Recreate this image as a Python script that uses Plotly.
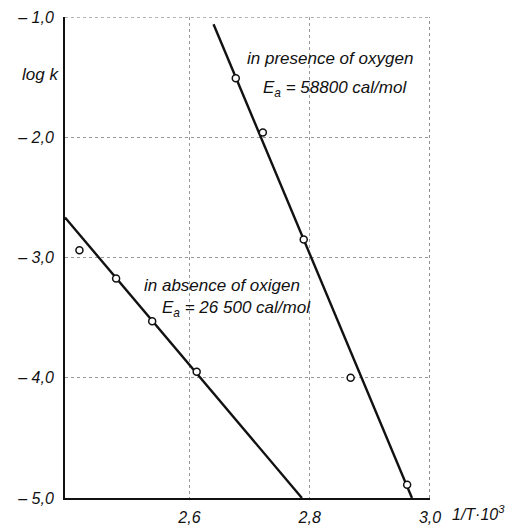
import plotly.graph_objects as go

# Measured rate constants (log k against 1/T * 10^3)
x_oxygen = [2.677, 2.722, 2.790, 2.868, 2.962]
y_oxygen = [-1.51, -1.96, -2.85, -4.00, -4.89]

x_no_oxygen = [2.417, 2.478, 2.538, 2.612]
y_no_oxygen = [-2.94, -3.175, -3.53, -3.95]

# Arrhenius fit lines (end points)
fit_oxygen_x = [2.640, 2.970]
fit_oxygen_y = [-1.06, -5.00]
fit_no_oxygen_x = [2.393, 2.787]
fit_no_oxygen_y = [-2.667, -5.00]

x_ticks = [2.6, 2.8, 3.0]
x_tick_text = ["2,6", "2,8", "3,0"]
y_ticks = [-1, -2, -3, -4, -5]
y_tick_text = ["\u2013 1,0", "\u2013 2,0", "\u2013 3,0", "\u2013 4,0", "\u2013 5,0"]

X_RANGE = [2.393, 3.0]
Y_RANGE = [-5.0, -1.0]

FONT = "Liberation Sans"
INK = "#111111"

fig = go.Figure()

fig.add_trace(go.Scatter(x=fit_oxygen_x, y=fit_oxygen_y, mode="lines",
                         line=dict(color=INK, width=2.4), hoverinfo="skip"))
fig.add_trace(go.Scatter(x=fit_no_oxygen_x, y=fit_no_oxygen_y, mode="lines",
                         line=dict(color=INK, width=2.4), hoverinfo="skip"))

marker = dict(symbol="circle", size=7, color="white", line=dict(color=INK, width=1.5))
fig.add_trace(go.Scatter(x=x_oxygen, y=y_oxygen, mode="markers", marker=marker))
fig.add_trace(go.Scatter(x=x_no_oxygen, y=y_no_oxygen, mode="markers", marker=marker))

# thin dotted frame on top and right
fig.add_shape(type="line", xref="x", yref="y", x0=X_RANGE[0], x1=X_RANGE[1], y0=Y_RANGE[1], y1=Y_RANGE[1],
              line=dict(color="#666666", width=1, dash="dot"))
fig.add_shape(type="line", xref="x", yref="y", x0=X_RANGE[1], x1=X_RANGE[1], y0=Y_RANGE[0], y1=Y_RANGE[1],
              line=dict(color="#555555", width=1.3, dash="dot"))

txt = dict(family=FONT, size=17, color=INK, style="italic")
fig.add_annotation(x=2.834, y=-1.342, text="in presence of oxygen", showarrow=False, font=txt)
fig.add_annotation(x=2.842, y=-1.60, text="E<sub>a</sub> = 58800 cal/mol", showarrow=False, font=txt)
fig.add_annotation(x=2.654, y=-3.233, text="in absence of oxigen", showarrow=False, font=txt)
fig.add_annotation(x=2.678, y=-3.425, text="E<sub>a</sub> = 26 500 cal/mol", showarrow=False, font=txt)

fig.add_annotation(xref="paper", yref="paper", x=-0.123, y=0.904, xanchor="left",
                   text="log k", showarrow=False, font=txt)
fig.add_annotation(xref="paper", yref="paper", x=1.055, y=-0.032, xanchor="left", yanchor="middle",
                   text="1/T\u00b710<sup>3</sup>", showarrow=False,
                   font=dict(family=FONT, size=16, color=INK, style="italic"))

fig.update_layout(
    width=521, height=525,
    margin=dict(l=65, r=91, t=17, b=27),
    paper_bgcolor="white", plot_bgcolor="white",
    showlegend=False,
    font=dict(family=FONT, size=16, color=INK, style="italic"),
)
tickfont = dict(family=FONT, size=16, color=INK, style="italic")
fig.update_xaxes(range=X_RANGE, tickvals=x_ticks, ticktext=x_tick_text, tickfont=tickfont,
                 showline=True, linecolor=INK, linewidth=2, mirror=False, automargin=False,
                 showgrid=True, gridcolor="#999999", gridwidth=1, griddash="dot",
                 ticks="", zeroline=False, ticklabelstandoff=4)
fig.update_yaxes(range=Y_RANGE, tickvals=y_ticks, ticktext=y_tick_text, tickfont=tickfont,
                 showline=True, linecolor=INK, linewidth=2, mirror=False, automargin=False,
                 showgrid=True, gridcolor="#999999", gridwidth=1, griddash="dot",
                 ticks="", zeroline=False, ticklabelstandoff=6)

fig.write_html("out.html")
